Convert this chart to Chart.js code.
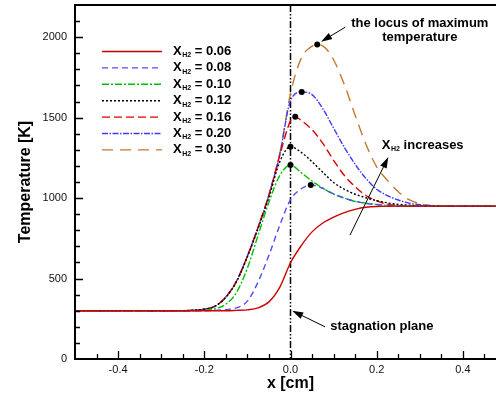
<!DOCTYPE html>
<html>
<head>
<meta charset="utf-8">
<script src="https://cdn.jsdelivr.net/npm/chart.js@4.4.1/dist/chart.umd.min.js"></script>
<style>
  html, body { margin: 0; padding: 0; background: #fff; overflow: hidden; }
  #wrap { width: 520px; height: 395px; }
</style>
</head>
<body>
<div id="wrap"><canvas id="tempChart" width="520" height="395"></canvas></div>
<script>
// Temperature profiles across the flame for several H2 mole fractions
const xH2Labels = ['0.06', '0.08', '0.10', '0.12', '0.16', '0.20', '0.30'];

const x06 = [-0.5, -0.15, -0.125, -0.1, -0.075, -0.05, -0.025, 0, 0.025, 0.05, 0.075, 0.1, 0.125, 0.15, 0.175, 0.2, 0.25, 0.5];
const T06 = [300, 300, 302, 305, 318, 355, 445, 598, 705, 790, 845, 882, 910, 930, 943, 948, 950, 950];

const x08 = [-0.5, -0.2, -0.175, -0.15, -0.125, -0.1, -0.075, -0.05, -0.025, 0, 0.025, 0.047, 0.075, 0.1, 0.125, 0.15, 0.175, 0.2, 0.25, 0.3, 0.5];
const T08 = [300, 300, 302, 307, 318, 360, 480, 645, 830, 990, 1058, 1082, 1060, 1026, 1000, 980, 967, 959, 951, 950, 950];

const x10 = [-0.5, -0.225, -0.2, -0.175, -0.15, -0.125, -0.1, -0.075, -0.05, -0.025, 0, 0.025, 0.05, 0.075, 0.1, 0.125, 0.15, 0.175, 0.2, 0.225, 0.25, 0.3, 0.5];
const T10 = [300, 300, 303, 312, 340, 415, 565, 770, 975, 1140, 1205, 1158, 1106, 1062, 1025, 1000, 979, 969, 961, 954, 951, 950, 950];

const x12 = [-0.5, -0.25, -0.225, -0.2, -0.175, -0.15, -0.125, -0.1, -0.075, -0.05, -0.025, 0, 0.025, 0.05, 0.075, 0.1, 0.125, 0.15, 0.175, 0.2, 0.225, 0.25, 0.3, 0.35, 0.5];
const T12 = [300, 300, 303, 310, 328, 383, 482, 635, 812, 1005, 1225, 1319, 1284, 1226, 1160, 1097, 1055, 1024, 1002, 984, 970, 961, 953, 950, 950];

const x16 = [-0.5, -0.25, -0.225, -0.2, -0.175, -0.15, -0.125, -0.1, -0.075, -0.05, -0.025, 0, 0.011, 0.025, 0.05, 0.075, 0.1, 0.125, 0.15, 0.175, 0.2, 0.225, 0.25, 0.3, 0.5];
const T16 = [300, 300, 303, 310, 328, 385, 485, 640, 820, 1020, 1265, 1480, 1505, 1482, 1425, 1340, 1235, 1140, 1070, 1016, 983, 962, 953, 950, 950];

const x20 = [-0.5, -0.25, -0.225, -0.2, -0.175, -0.15, -0.125, -0.1, -0.075, -0.05, -0.025, 0, 0.026, 0.05, 0.075, 0.1, 0.125, 0.15, 0.175, 0.2, 0.225, 0.25, 0.275, 0.3, 0.35, 0.4, 0.5];
const T20 = [300, 300, 303, 310, 328, 385, 485, 640, 820, 1020, 1270, 1605, 1660, 1643, 1555, 1435, 1315, 1210, 1122, 1055, 1015, 988, 969, 959, 951, 950, 950];

const x30 = [-0.5, -0.25, -0.225, -0.2, -0.175, -0.15, -0.125, -0.1, -0.075, -0.05, -0.025, 0, 0.025, 0.045, 0.062, 0.08, 0.1, 0.125, 0.15, 0.175, 0.2, 0.225, 0.25, 0.275, 0.3, 0.35, 0.4, 0.5];
const T30 = [300, 300, 303, 310, 328, 385, 485, 640, 820, 1020, 1275, 1650, 1870, 1935, 1955, 1935, 1860, 1705, 1515, 1335, 1194, 1110, 1040, 990, 965, 951, 950, 950];

const xTicks = [-0.4, -0.2, 0, 0.2, 0.4];
const yTicks = [0, 500, 1000, 1500, 2000];

const profiles = [[x06, T06], [x08, T08], [x10, T10], [x12, T12], [x16, T16], [x20, T20], [x30, T30]];

const lineColors = ['#cc0000', '#4d4dff', '#00c000', '#000000', '#dd0000', '#3c3cff', '#c47a30'];
const lineDashes = [[], [6, 4], [7, 2, 2, 2], [2, 2], [8, 4], [6, 1.5, 1.5, 1.5], [11, 7]];
const FONT = '"Liberation Sans", Arial, Helvetica, sans-serif';

function toPoints(xs, ts) {
  return xs.map((x, i) => ({ x: x, y: ts[i] }));
}

// maximum of every profile that has one (0.06 only rises)
const locus = profiles.slice(1).map(([xs, ts]) => {
  let k = 0;
  ts.forEach((t, i) => { if (t > ts[k]) k = i; });
  return { x: xs[k], y: ts[k] };
});

const datasets = [{
  data: locus,
  showLine: false,
  pointRadius: 3,
  pointBackgroundColor: '#000',
  pointBorderWidth: 0,
  order: -1
}];
profiles.forEach(([xs, ts], i) => {
  datasets.push({
    data: toPoints(xs, ts),
    borderColor: lineColors[i],
    borderDash: lineDashes[i],
    borderWidth: 1.4,
    pointRadius: 0,
    fill: false,
    cubicInterpolationMode: 'monotone'
  });
});

function arrow(ctx, x0, y0, x1, y1) {
  const a = Math.atan2(y1 - y0, x1 - x0);
  const len = 11, half = 3.5;
  const c = Math.cos(a), s = Math.sin(a);
  ctx.beginPath();
  ctx.moveTo(x0, y0);
  ctx.lineTo(x1 - c * len * 0.8, y1 - s * len * 0.8);
  ctx.stroke();
  ctx.beginPath();
  ctx.moveTo(x1, y1);
  ctx.lineTo(x1 - c * len + s * half, y1 - s * len - c * half);
  ctx.lineTo(x1 - c * len - s * half, y1 - s * len + c * half);
  ctx.closePath();
  ctx.fill();
}

// "X" with the H2 subscript, followed by the rest of the text
function xh2Text(ctx, x, y, rest) {
  ctx.textAlign = 'left';
  ctx.textBaseline = 'middle';
  ctx.font = 'bold 13px ' + FONT;
  ctx.fillText('X', x, y);
  let w = ctx.measureText('X').width + 0.5;
  ctx.font = 'bold 7px ' + FONT;
  ctx.fillText('H2', x + w, y + 4);
  w += ctx.measureText('H2').width;
  ctx.font = 'bold 13px ' + FONT;
  ctx.fillText(rest, x + w, y);
}

const decor = {
  id: 'decor',
  beforeDatasetsDraw(chart) {
    const { ctx, chartArea: a, scales: { x } } = chart;
    // stagnation plane at x = 0
    const px = x.getPixelForValue(0);
    ctx.save();
    ctx.strokeStyle = '#000';
    ctx.lineWidth = 1.5;
    ctx.setLineDash([7, 2, 1.5, 2, 1.5, 2]);
    ctx.beginPath();
    ctx.moveTo(px, a.top);
    ctx.lineTo(px, a.bottom);
    ctx.stroke();
    ctx.restore();
  },
  afterDatasetsDraw(chart) {
    const { ctx, chartArea: a, scales: { x, y } } = chart;
    ctx.save();
    ctx.strokeStyle = '#000';
    ctx.fillStyle = '#000';

    // inward tick marks
    ctx.lineWidth = 1.3;
    ctx.beginPath();
    for (let i = -9; i <= 9; i++) {
      const px = Math.round(x.getPixelForValue(i * 0.05)) + 0.5;
      const len = i % 4 === 0 ? 8 : 5;
      ctx.moveTo(px, a.bottom);
      ctx.lineTo(px, a.bottom - len);
    }
    for (let j = 1; j <= 21; j++) {
      const py = Math.round(y.getPixelForValue(j * 100)) + 0.5;
      const len = j % 5 === 0 ? 8 : 5;
      ctx.moveTo(a.left, py);
      ctx.lineTo(a.left + len, py);
    }
    ctx.stroke();

    // frame
    ctx.lineWidth = 2;
    ctx.strokeRect(a.left, a.top, a.right - a.left, a.bottom - a.top);

    // legend
    xH2Labels.forEach((lab, i) => {
      const ly = a.top + 46.5 + i * 16.4;
      ctx.save();
      ctx.strokeStyle = lineColors[i];
      ctx.lineWidth = 1.4;
      ctx.setLineDash(lineDashes[i]);
      ctx.beginPath();
      ctx.moveTo(a.left + 27, ly);
      ctx.lineTo(a.left + 87, ly);
      ctx.stroke();
      ctx.restore();
      xh2Text(ctx, a.left + 98, ly, ' = ' + lab);
    });

    // annotations
    ctx.lineWidth = 1;
    ctx.font = 'bold 13px ' + FONT;
    ctx.textAlign = 'center';
    ctx.textBaseline = 'middle';
    ctx.fillText('the locus of maximum', x.getPixelForValue(0.30), y.getPixelForValue(2087));
    ctx.fillText('temperature', x.getPixelForValue(0.30), y.getPixelForValue(2000));
    arrow(ctx, x.getPixelForValue(0.127), y.getPixelForValue(2062), x.getPixelForValue(0.071), y.getPixelForValue(1972));

    xh2Text(ctx, x.getPixelForValue(0.212), y.getPixelForValue(1329), ' increases');
    arrow(ctx, x.getPixelForValue(0.138), y.getPixelForValue(770), x.getPixelForValue(0.227), y.getPixelForValue(1255));

    ctx.textAlign = 'left';
    ctx.textBaseline = 'middle';
    ctx.font = 'bold 13px ' + FONT;
    ctx.fillText('stagnation plane', x.getPixelForValue(0.092), y.getPixelForValue(205));
    arrow(ctx, x.getPixelForValue(0.080), y.getPixelForValue(200), x.getPixelForValue(0.004), y.getPixelForValue(300));
    ctx.restore();
  }
};

new Chart(document.getElementById('tempChart').getContext('2d'), {
  type: 'line',
  data: { datasets: datasets },
  plugins: [decor],
  options: {
    responsive: false,
    animation: false,
    events: [],
    layout: { padding: { top: 5, right: 14, left: 0, bottom: 0 } },
    plugins: { legend: { display: false }, tooltip: { enabled: false } },
    scales: {
      x: {
        type: 'linear',
        min: -0.5,
        max: 0.5,
        grid: { display: false, drawTicks: false },
        border: { display: false },
        afterBuildTicks: s => { s.ticks = xTicks.map(v => ({ value: v })); },
        afterFit: s => { s.height = 36; s.paddingLeft = 0; s.paddingRight = 0; s.paddingTop = 0; s.paddingBottom = 0; },
        ticks: {
          padding: 4,
          color: '#111',
          maxRotation: 0,
          autoSkip: false,
          font: { family: FONT, size: 11 },
          callback: v => v.toFixed(1)
        },
        title: {
          display: true,
          text: 'x [cm]',
          color: '#000',
          font: { family: FONT, size: 16, weight: 'bold' },
          padding: { top: 0, bottom: 2 }
        }
      },
      y: {
        type: 'linear',
        min: 0,
        max: 2200,
        grid: { display: false, drawTicks: false },
        border: { display: false },
        afterBuildTicks: s => { s.ticks = yTicks.map(v => ({ value: v })); },
        afterFit: s => { s.width = 75; s.paddingLeft = 0; s.paddingRight = 0; s.paddingTop = 0; s.paddingBottom = 0; },
        ticks: {
          padding: 8,
          color: '#111',
          autoSkip: false,
          font: { family: FONT, size: 11 },
          callback: v => String(v)
        },
        title: {
          display: true,
          text: 'Temperature [K]',
          color: '#000',
          font: { family: FONT, size: 16, weight: 'bold' },
          padding: { top: 16, bottom: 0 }
        }
      }
    }
  }
});
</script>
</body>
</html>
